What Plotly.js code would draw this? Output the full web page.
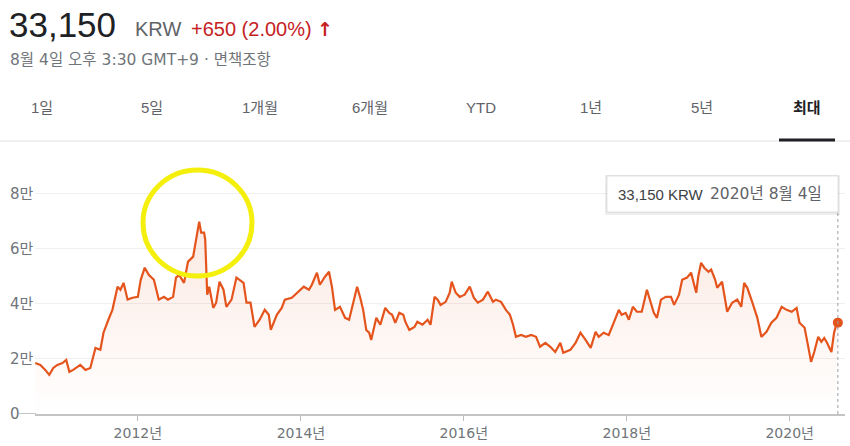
<!DOCTYPE html>
<html>
<head>
<meta charset="utf-8">
<script src="https://cdn.plot.ly/plotly-3.0.1.min.js"></script>
<style>
  html, body { margin: 0; padding: 0; background: #fff; }
  #chart { width: 850px; height: 446px; }
</style>
</head>
<body>
<div id="chart"></div>
<script>
// ---- data ----
const dates = [
  "2010-09-28","2010-10-21","2010-11-12","2010-11-30","2010-12-18",
  "2011-01-05","2011-01-28","2011-02-14","2011-02-28","2011-03-17","2011-04-18","2011-05-11","2011-06-02","2011-06-25","2011-07-17","2011-07-31","2011-08-22","2011-09-09","2011-10-02","2011-10-15","2011-10-29","2011-11-16","2011-12-08",
  "2012-01-01","2012-01-14","2012-02-01","2012-02-19","2012-03-13","2012-04-04","2012-04-27","2012-05-15","2012-06-07","2012-06-20","2012-07-04","2012-07-26","2012-08-13","2012-09-05","2012-09-18","2012-10-02","2012-10-11","2012-10-24","2012-10-29","2012-11-02","2012-11-07","2012-11-16","2012-12-04","2012-12-17",
  "2013-01-01","2013-01-19","2013-02-01","2013-02-24","2013-03-18","2013-04-01","2013-04-19","2013-05-02","2013-05-20","2013-06-07","2013-06-30","2013-07-23","2013-08-10","2013-08-19","2013-09-15","2013-10-07","2013-10-21","2013-11-21","2013-12-14",
  "2014-01-14","2014-02-06","2014-02-19","2014-03-14","2014-03-27","2014-04-19","2014-05-07","2014-05-20","2014-06-03","2014-06-25","2014-07-18","2014-08-05","2014-08-28","2014-09-10","2014-09-24","2014-10-07","2014-10-21","2014-11-03","2014-11-12","2014-12-05","2014-12-23",
  "2015-01-14","2015-02-01","2015-02-14","2015-02-28","2015-03-18","2015-04-05","2015-04-14","2015-05-02","2015-05-25","2015-06-07","2015-06-30","2015-07-23","2015-08-05","2015-08-23","2015-09-06","2015-09-19","2015-10-12","2015-10-30","2015-11-08","2015-11-26","2015-12-14",
  "2016-01-05","2016-01-28","2016-02-15","2016-03-04","2016-03-27","2016-04-18","2016-05-11","2016-05-24","2016-06-16","2016-07-08","2016-07-26","2016-08-09","2016-08-22","2016-09-14","2016-10-06","2016-10-29","2016-11-20","2016-12-08",
  "2017-01-01","2017-01-23","2017-02-14","2017-03-09","2017-03-22","2017-04-23","2017-05-16","2017-06-07","2017-06-30","2017-07-23","2017-08-14","2017-08-28","2017-09-19","2017-10-12","2017-11-03","2017-11-26","2017-12-09","2017-12-27",
  "2018-01-10","2018-01-28","2018-02-15","2018-03-09","2018-04-01","2018-04-19","2018-05-02","2018-05-16","2018-06-03","2018-06-25","2018-07-18","2018-08-01","2018-08-23","2018-09-06","2018-09-28","2018-10-16","2018-10-29","2018-11-08","2018-11-17","2018-11-30","2018-12-14",
  "2019-01-02","2019-01-14","2019-02-01","2019-02-10","2019-03-04","2019-03-27","2019-04-18","2019-05-11","2019-05-29","2019-06-11","2019-06-25","2019-07-18","2019-08-09","2019-08-27","2019-09-19","2019-10-11","2019-11-03","2019-11-26","2019-12-18",
  "2020-01-10","2020-02-01","2020-02-14","2020-03-08","2020-03-21","2020-04-06","2020-04-20","2020-05-08","2020-05-22","2020-06-04","2020-06-17","2020-07-06","2020-07-18","2020-07-28","2020-08-04"
];
const prices = [
  18500,17800,16000,14200,16700,
  17800,18500,19600,15300,16000,17800,16000,16700,24000,23300,29500,34200,37800,46200,45100,47600,41500,42200,
  42500,48700,53100,50500,48700,41500,42500,41500,42500,49500,50500,47600,55300,57100,63300,69800,65800,65800,63300,53500,43300,46200,38500,40400,
  48000,45100,38900,41500,49500,48700,47600,40400,40400,31600,34200,37800,36000,30500,36000,38500,41500,42200,44000,
  46200,45100,46900,51300,46900,49800,51600,46200,37800,38900,34900,34200,41500,46200,42200,37800,30500,29500,26900,34900,32400,
  38500,36700,36000,33100,36700,36000,33500,30500,31600,33500,32400,34200,32400,42500,41500,39600,40700,44000,48000,44000,42500,
  43300,46200,42200,40400,41500,44400,40700,41500,40700,37800,36000,32400,28000,28700,28000,28700,28000,24400,
  25800,24400,22500,25800,22200,23300,25800,29500,26900,24000,29800,28000,29500,28700,33100,37800,36000,36700,
  34200,38900,37100,37100,45100,40400,36700,34900,41500,42500,42500,39600,43300,48700,49500,51300,47600,44000,49800,54900,53100,
  51600,52400,48700,45800,48000,37100,40400,41500,38900,47600,45800,40400,34900,28000,29800,33100,34900,38900,37800,
  37100,38500,33100,31300,25800,18900,22500,28000,26200,27600,25800,22500,29500,32400,33150
];
const yTickVals = [0, 20000, 40000, 60000, 80000];
const yTickText = ["0", "2만", "4만", "6만", "8만"];
const xTickVals = ["2012-01-01", "2014-01-01", "2016-01-01", "2018-01-01", "2020-01-01"];
const xTickText = ["2012년", "2014년", "2016년", "2018년", "2020년"];
const tabs = ["1일", "5일", "1개월", "6개월", "YTD", "1년", "5년", "최대"];
const headPrice = "33,150";
const headCurrency = "KRW";
const headChange = "+650 (2.00%)";
const headSub = "8월 4일 오후 3:30 GMT+9 · 면책조항";
const tipPrice = "33,150 KRW";
const tipDate = "2020년 8월 4일";

// ---- layout helpers (pixel -> paper) ----
const L = 35, R = 845, T = 166, B = 414;
const px = x => (x - L) / (R - L);
const py = y => (B - y) / (B - T);
const FONT = "Arial, 'Liberation Sans', 'Noto Sans CJK KR', sans-serif";
const WIDE = "'DejaVu Sans', 'Noto Sans CJK KR', sans-serif";
const lineColor = "#e4541c";
const lastDate = dates[dates.length - 1];
const lastPrice = prices[prices.length - 1];

const traces = [
  {
    x: dates, y: prices, type: "scatter", mode: "lines",
    line: { color: lineColor, width: 2.2 },
    fill: "tozeroy",
    fillgradient: {
      type: "vertical",
      colorscale: [[0, "rgba(228,84,28,0.0)"], [1, "rgba(228,84,28,0.13)"]]
    },
    hoverinfo: "skip"
  },
  {
    x: [lastDate], y: [lastPrice], type: "scatter", mode: "markers",
    marker: { color: lineColor, size: 10 },
    hoverinfo: "skip"
  }
];

const tabX = [42, 152, 260, 370, 481, 591, 702, 807];
const annotations = [
  { text: headPrice, x: px(7), y: py(24), font: { size: 35, color: "#202124" } },
  { text: headCurrency, x: px(133), y: py(29), font: { size: 20, color: "#5f6368" } },
  { text: headChange, x: px(189), y: py(29), font: { size: 20, color: "#c5221f" } },
  { text: "<b>↑</b>", x: px(315), y: py(29), font: { size: 19, color: "#c5221f", family: "'DejaVu Sans', sans-serif" } },
  { text: headSub, x: px(8), y: py(60), font: { size: 15.5, color: "#70757a", family: WIDE } },
  { text: tipPrice, x: px(616), y: py(194), font: { size: 15, color: "#3c4043" } },
  { text: tipDate, x: px(708), y: py(194), font: { size: 15.5, color: "#5f6368", family: WIDE } }
].map(a => Object.assign({ xref: "paper", yref: "paper", showarrow: false, xanchor: "left", yanchor: "middle" }, a));

tabs.forEach((t, i) => {
  const sel = i === tabs.length - 1;
  annotations.push({
    text: sel ? "<b>" + t + "</b>" : t,
    x: px(tabX[i]), y: py(107), xref: "paper", yref: "paper", showarrow: false,
    xanchor: "center", yanchor: "middle",
    font: { size: 15, color: sel ? "#202124" : "#5f6368" }
  });
});

// y tick labels: left-aligned at the page edge, as in the reference
yTickVals.forEach((v, i) => {
  annotations.push({
    text: yTickText[i], x: px(8), y: v, xref: "paper", yref: "y", showarrow: false,
    xanchor: "left", yanchor: "middle",
    font: { size: 15, color: "#70757a", family: WIDE }
  });
});

const shapes = [
  // tab separator & selected underline
  { type: "line", xref: "paper", yref: "paper", x0: px(0), x1: px(850), y0: py(141), y1: py(141), line: { color: "#e0e0e0", width: 1 } },
  { type: "line", xref: "paper", yref: "paper", x0: px(779), x1: px(835), y0: py(140), y1: py(140), line: { color: "#202124", width: 3 } },
  // baseline continuing left under the "0" label
  { type: "line", xref: "paper", yref: "y", x0: px(19), x1: px(36), y0: 0, y1: 0, line: { color: "#c4c4c4", width: 2 } },
  // dotted crosshair
  { type: "line", xref: "x", yref: "paper", x0: lastDate, x1: lastDate, y0: 0, y1: py(212), line: { color: "#9aa0a6", width: 1, dash: "dot" } },
  // tooltip shadow + box
  { type: "rect", xref: "paper", yref: "paper", x0: px(605), x1: px(840), y0: py(215), y1: py(175), fillcolor: "rgba(0,0,0,0.07)", line: { width: 0 } },
  { type: "rect", xref: "paper", yref: "paper", x0: px(607), x1: px(838), y0: py(212), y1: py(176), fillcolor: "#ffffff", line: { color: "rgba(0,0,0,0.10)", width: 1 } },
  // yellow highlight circle
  { type: "circle", xref: "paper", yref: "paper", x0: px(143), x1: px(252), y0: py(276), y1: py(170), line: { color: "#f4ef0c", width: 5 } }
];

const layout = {
  width: 850, height: 446,
  margin: { l: L, r: 850 - R, t: T, b: 446 - B, pad: 0 },
  paper_bgcolor: "#ffffff", plot_bgcolor: "#ffffff",
  font: { family: FONT, color: "#70757a" },
  showlegend: false,
  hovermode: false,
  xaxis: {
    type: "date",
    range: ["2010-09-27", "2020-09-05"],
    tickvals: xTickVals, ticktext: xTickText,
    ticks: "outside", ticklen: 5, tickwidth: 1, tickcolor: "#bdbdbd",
    showgrid: false, showline: true, linecolor: "#c4c4c4", linewidth: 2,
    tickfont: { size: 14, color: "#70757a", family: WIDE },
    fixedrange: true
  },
  yaxis: {
    range: [0, 90000],
    tickvals: yTickVals,
    showticklabels: false,
    showgrid: true, gridcolor: "#efefef", gridwidth: 1,
    zeroline: false, showline: false, ticks: "",
    fixedrange: true
  },
  annotations: annotations,
  shapes: shapes
};

Plotly.newPlot("chart", traces, layout, { displayModeBar: false, staticPlot: true });
</script>
</body>
</html>
